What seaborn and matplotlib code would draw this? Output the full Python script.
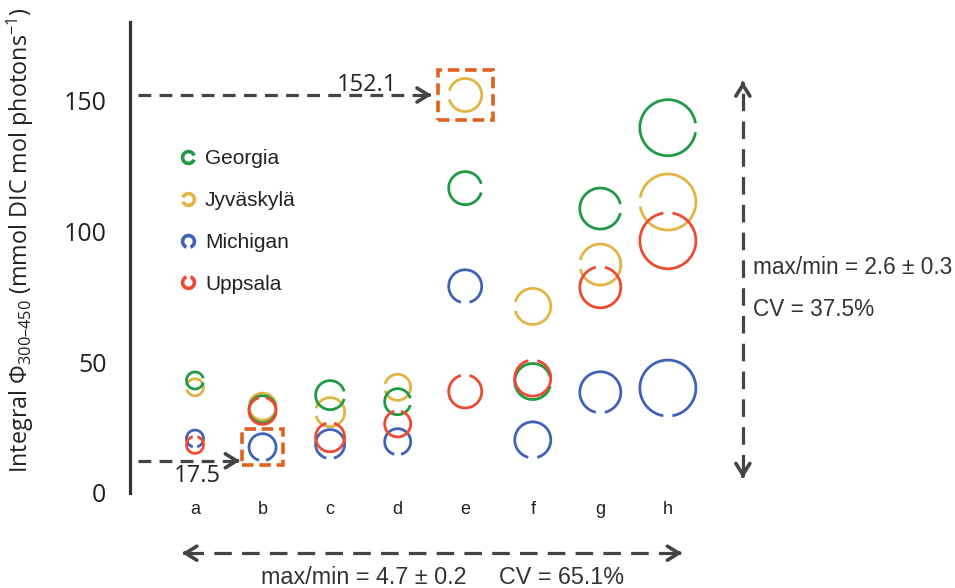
import numpy as np
import pandas as pd
import matplotlib
matplotlib.use("Agg")
import matplotlib.pyplot as plt
from matplotlib.path import Path
from matplotlib.lines import Line2D
from matplotlib.patches import Rectangle
import seaborn as sns

# ---- data -------------------------------------------------------------
categories = ["a", "b", "c", "d", "e", "f", "g", "h"]
sites = ["Georgia", "Jyväskylä", "Michigan", "Uppsala"]
georgia = [43.0, 32.0, 37.4, 34.9, 116.5, 42.6, 108.7, 139.6]
jyvaskyla = [40.4, 33.0, 30.9, 40.4, 152.1, 71.3, 87.3, 111.2]
michigan = [20.8, 17.5, 18.7, 19.6, 79.0, 20.3, 38.5, 40.1]
uppsala = [18.4, 31.4, 21.3, 26.4, 38.8, 43.9, 78.6, 96.4]
max_value = 152.1
min_value = 17.5
spread_across = "max/min = 2.6 ± 0.3"
cv_across = "CV = 37.5%"
spread_within = "max/min = 4.7 ± 0.2     CV = 65.1%"

# ---- style ------------------------------------------------------------
site_colors = {"Georgia": "#1f9a45", "Jyväskylä": "#e2b443",
               "Michigan": "#3f63b6", "Uppsala": "#ee4a31"}
gap_center = {"Georgia": 0, "Jyväskylä": 180, "Michigan": 270, "Uppsala": 90}
draw_order = ["Jyväskylä", "Michigan", "Georgia", "Uppsala"]
ring_px = [17, 27, 29, 26, 33, 36, 41, 56]   # ring diameter per category (px)
ink = "#444444"
box_color = "#e0621f"

sns.set_theme(style="white")
plt.rcParams["font.family"] = ["Open Sans", "DejaVu Sans"]
plt.rcParams["mathtext.fontset"] = "custom"
plt.rcParams["mathtext.rm"] = "Open Sans"
plt.rcParams["mathtext.it"] = "Open Sans:italic"


def ring_path(center_deg, gap=30):
    t = np.deg2rad(np.linspace(center_deg + gap / 2, center_deg + 360 - gap / 2, 160))
    verts = np.column_stack([np.cos(t), np.sin(t)])
    codes = [Path.MOVETO] + [Path.LINETO] * (len(verts) - 1)
    return Path(verts, codes)


values = {"Georgia": georgia, "Jyväskylä": jyvaskyla,
          "Michigan": michigan, "Uppsala": uppsala}
rows = [(i, c, s, v) for s in draw_order
        for i, (c, v) in enumerate(zip(categories, values[s]))]
df = pd.DataFrame(rows, columns=["pos", "category", "site", "value"])

DPI = 100
fig = plt.figure(figsize=(9.55, 5.88), dpi=DPI)
ax = fig.add_axes([130 / 955, 1 - 493 / 588, (803 - 130) / 955, 471 / 588])

pt_per_px = 72 / DPI
for i, (cat, d) in enumerate(zip(categories, ring_px)):
    # keep the opening a similar width in pixels on large rings
    gap = min(30.0, 2 * np.degrees(np.arcsin(4.5 / (d / 2))))
    markers = {s: ring_path(gap_center[s], gap) for s in sites}
    sub = df[df["category"] == cat]
    sns.scatterplot(data=sub, x="pos", y="value", hue="site", palette=site_colors,
                    hue_order=sites, style="site", markers=markers, style_order=sites,
                    s=(d * pt_per_px) ** 2, linewidth=2.0, legend=False, ax=ax)
    pts = ax.collections[-1]
    fc = pts.get_facecolors()
    pts.set_edgecolors(fc)
    pts.set_facecolors("none")
    pts.set_linewidths(2.0)

# ---- axes -------------------------------------------------------------
ax.set_xlim(-0.962, 9.0)
ax.set_ylim(0, 180)
ax.set_yticks([0, 50, 100, 150])
ax.set_xticks(range(len(categories)))
ax.set_xticklabels(categories, fontfamily="Liberation Sans", fontsize=13, color="#222222")
ax.set_xlabel("")
ylabel = "Integral $\\Phi_{300\u2013450}$ (mmol DIC mol photons$^{-1}$)"
ax.set_ylabel(ylabel, fontsize=16.8, color="#222222")
ax.yaxis.set_label_coords(-0.139, 0.536)
for side in ["top", "right", "bottom"]:
    ax.spines[side].set_visible(False)
ax.spines["left"].set_linewidth(2.3)
ax.spines["left"].set_color("#333333")
ax.tick_params(axis="y", length=5, width=2.3, color="#333333", pad=12,
               labelsize=18, labelcolor="#222222")
ax.tick_params(axis="x", length=0, pad=6)
ax.grid(False)

# ---- legend -----------------------------------------------------------
handles = [Line2D([], [], linestyle="none", marker=ring_path(gap_center[s], gap=40),
                  markersize=8.5, markerfacecolor="none", markeredgecolor=site_colors[s],
                  markeredgewidth=2.6) for s in sites]
leg = ax.legend(handles, sites, loc="upper left", bbox_to_anchor=(179 / 955, 1 - 149 / 588),
                bbox_transform=fig.transFigure, frameon=False, handlelength=0.85,
                handletextpad=0.4, labelspacing=1.1, borderpad=0, borderaxespad=0,
                prop={"family": "Liberation Sans", "size": 15})
for t in leg.get_texts():
    t.set_color("#222222")

# ---- annotations ------------------------------------------------------
def head(tip, direction, scale=18):
    dx, dy = direction
    ax.annotate("", xy=tip, xytext=(tip[0] - dx, tip[1] - dy),
                arrowprops=dict(arrowstyle="->,head_length=0.45,head_width=0.28",
                                lw=2.6, color=ink, shrinkA=0, shrinkB=0,
                                mutation_scale=scale),
                annotation_clip=False)


def dashed(xs, ys, pattern=(4, 2.6)):
    ax.plot(xs, ys, color=ink, lw=2.3, linestyle=(0, pattern), clip_on=False,
            solid_capstyle="butt", dash_capstyle="butt")


x_max, x_min = categories.index("e"), categories.index("b")

# maximum value pointer
dashed([-0.85, 3.45], [max_value, max_value])
head((3.503, max_value), (0.05, 0))
ax.text(2.553, 153.6, f"{max_value}", ha="center", va="baseline", fontsize=17,
        color="#222222")
ax.add_patch(Rectangle((x_max - 0.41, max_value - 9.6), 0.82, 19.2, fill=False,
                       edgecolor=box_color, lw=2.6, linestyle=(0, (3.2, 1.6)),
                       clip_on=False, zorder=5))

# minimum value pointer
y_lo = 12.3
dashed([-0.85, 0.61], [y_lo, y_lo])
head((0.666, y_lo), (0.05, 0))
ax.text(0.03, 10.9, f"{min_value}", ha="center", va="top", fontsize=17, color="#222222")
ax.add_patch(Rectangle((x_min - 0.31, min_value - 6.9), 0.62, 13.8, fill=False,
                       edgecolor=box_color, lw=2.6, linestyle=(0, (3.2, 1.6)),
                       clip_on=False, zorder=5))

# spread across sites (vertical double arrow)
note_font = ["Liberation Sans Narrow", "Liberation Sans", "DejaVu Sans"]
vx = 8.11
dashed([vx, vx], [8.0, 155.0], pattern=(5.5, 3.2))
head((vx, 157.3), (0, 1.0))
head((vx, 5.7), (0, -1.0))
ax.text(8.26, 86.1, spread_across, ha="left", va="center", fontsize=16.3,
        family=note_font, color="#333333")
ax.text(8.26, 70.0, cv_across, ha="left", va="center", fontsize=16.3,
        family=note_font, color="#333333")

# spread within sites (horizontal double arrow)
hy = -23.0
dashed([-0.14, 7.16], [hy, hy], pattern=(5.5, 3.2))
head((-0.19, hy), (-0.05, 0))
head((7.21, hy), (0.05, 0))
ax.text(3.66, -32.3, spread_within, ha="center", va="center", fontsize=16.8,
        family=note_font, color="#333333")

fig.savefig("out.png", dpi=DPI)
